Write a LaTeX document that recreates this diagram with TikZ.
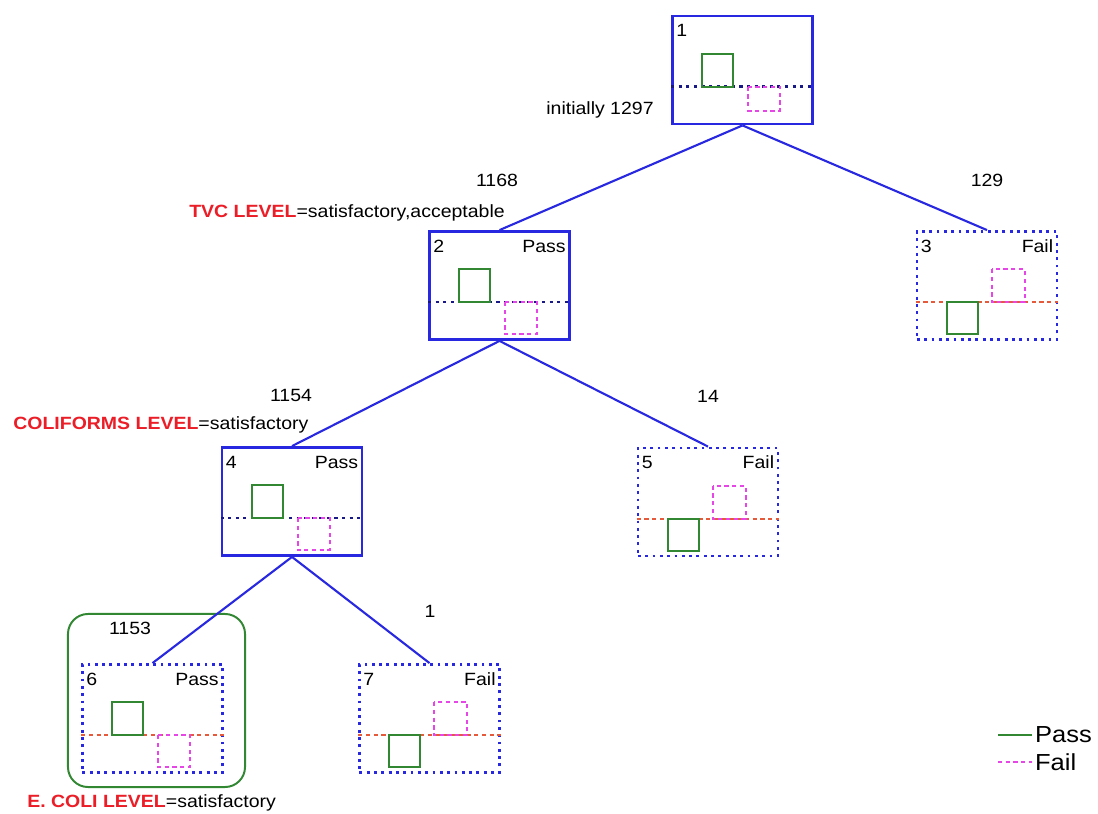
\documentclass[tikz,border=0pt]{standalone}
\usepackage{fontspec}
\setmainfont[FakeStretch=1.1]{Liberation Sans}
\definecolor{treeblue}{RGB}{40,40,225}
\definecolor{passgreen}{RGB}{50,135,50}
\definecolor{failpink}{RGB}{230,70,230}
\definecolor{levelred}{RGB}{235,30,40}
\definecolor{splitred}{RGB}{230,90,60}

\begin{document}
\begin{tikzpicture}[x=0.025cm,y=-0.025cm,
                    font=\fontsize{12.6}{15}\selectfont,
                    tree node/.style={rectangle,inner sep=0pt,minimum width=3.5cm,minimum height=2.7cm,
                                      draw=treeblue,line width=2pt},
                    split node/.style={tree node},
                    leaf node/.style={tree node,dash pattern=on 2pt off 3.2pt},
                    split line/.style={treeblue!60!black,line width=1.6pt,dash pattern=on 2.2pt off 3.2pt},
                    leaf line/.style={splitred,line width=1.5pt,dash pattern=on 3pt off 2.5pt},
                    pass bar/.style={passgreen,line width=1.4pt},
                    fail bar/.style={failpink,line width=1.4pt,dash pattern=on 3pt off 2.5pt},
                    branch/.style={treeblue,line width=1.5pt}]

        \useasboundingbox (0,0) rectangle (1098,814);

        % Define vertices
        \node[split node] (1) at (742.5,70)  {};
        \node[split node] (2) at (499.5,285.5) {};
        \node[leaf node]  (3) at (987,285.5) {};
        \node[split node] (4) at (292,501.5) {};
        \node[leaf node]  (5) at (708,502)   {};
        \node[leaf node]  (6) at (152.5,718.5) {};
        \node[leaf node]  (7) at (429.5,718.5) {};
        \node[draw=passgreen,line width=1.4pt,rounded corners=0.5cm,minimum width=4.425cm,
              minimum height=4.325cm] (6frame) at (156.5,700.5) {};

        % Node numbers and classes
        \foreach \n/\c in {1/,2/Pass,3/Fail,4/Pass,5/Fail,6/Pass,7/Fail} {
            \node[anchor=west,inner sep=0pt] (num\n) at ([shift={(5,16)}]\n.north west) {\n};
            \node[anchor=east,inner sep=0pt] (cls\n) at ([shift={(-5,16)}]\n.north east) {\c};
        }

        % Split lines and bars
        \foreach \n in {1,2,4} {
            \draw[split line] ([shift={(0,72)}]\n.north west) -- ([shift={(0,72)}]\n.north east);
        }
        \foreach \n in {3,5,6,7} {
            \draw[leaf line] ([shift={(0,72)}]\n.north west) -- ([shift={(0,72)}]\n.north east);
        }
        \foreach \n/\d in {1/96,2/104,4/104,6/104} {
            \draw[pass bar] ([shift={(31,39)}]\n.north west) rectangle ([shift={(62,72)}]\n.north west);
            \draw[fail bar] ([shift={(77,72)}]\n.north west) rectangle ([shift={(109,\d)}]\n.north west);
        }
        \foreach \n in {3,5,7} {
            \draw[fail bar] ([shift={(76,39)}]\n.north west) rectangle ([shift={(109,72)}]\n.north west);
            \draw[pass bar] ([shift={(31,72)}]\n.north west) rectangle ([shift={(62,104)}]\n.north west);
        }

        % Draw edges
        \path[branch]
            (1.south) edge (2.north)
            (1.south) edge (3.north)
            (2.south) edge (4.north)
            (2.south) edge (5.north)
            (4.south) edge (6.north)
            (4.south) edge (7.north);

        % Counts and split rules
        \node (n1297) at (600,110) {initially 1297};
        \node (n1168) at (497,180) {1168};
        \node (n129)  at (987,180) {129};
        \node (n1154) at (291,395) {1154};
        \node (n14)   at (708,396) {14};
        \node (n1153) at (130,628) {1153};
        \node (n1)    at (430,611) {1};
        \node[anchor=east,inner sep=0pt] (tvc) at (505,213)
            {\textcolor{levelred}{\bfseries TVC LEVEL}=satisfactory,acceptable};
        \node[anchor=west,inner sep=0pt] (coli) at (13,425)
            {\textcolor{levelred}{\bfseries COLIFORMS LEVEL}=satisfactory};
        \node[anchor=west,inner sep=0pt] (ecoli) at (27,803)
            {\textcolor{levelred}{\bfseries E. COLI LEVEL}=satisfactory};

        % Legend
        \coordinate (passa) at (998,735);
        \coordinate (passb) at (1032,735);
        \coordinate (faila) at (998,762);
        \coordinate (failb) at (1032,762);
        \draw[pass bar] (passa) -- (passb);
        \draw[fail bar] (faila) -- (failb);
        \node[anchor=west,inner sep=2pt,font=\fontsize{16.5}{18}\selectfont] (passkey) at (passb) {Pass};
        \node[anchor=west,inner sep=2pt,font=\fontsize{16.5}{18}\selectfont] (failkey) at (failb) {Fail};
        \end{tikzpicture}
\end{document}
